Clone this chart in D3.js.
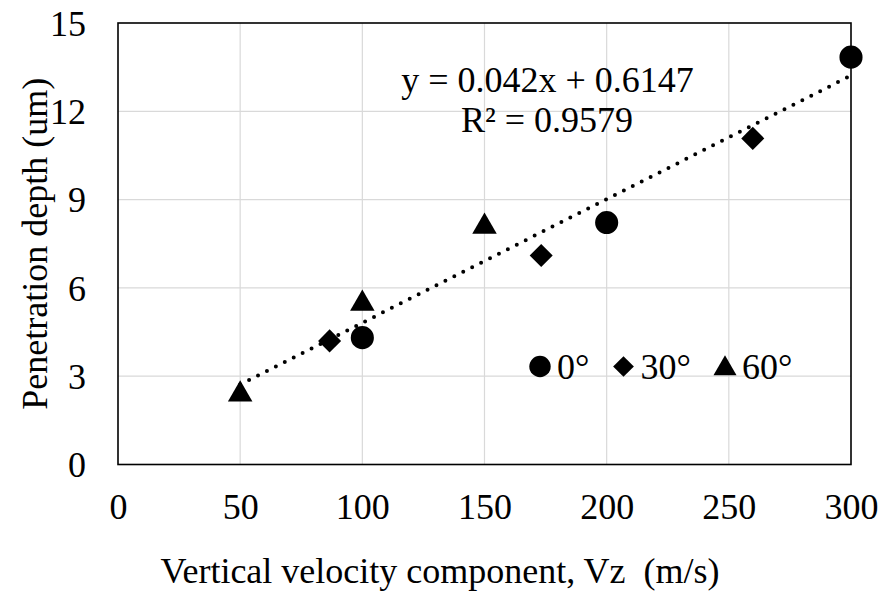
<!DOCTYPE html>
<html><head><meta charset="utf-8">
<script src="https://cdn.jsdelivr.net/npm/d3@7"></script>
<style>body{margin:0;background:#fff}svg{display:block}
svg text{font-family:"Liberation Serif","Tinos","Times New Roman","DejaVu Serif",serif !important;}</style>
</head><body>
<script>
const xTicks = [0, 50, 100, 150, 200, 250, 300];
const yTicks = [0, 3, 6, 9, 12, 15];
const seriesNames = ["0°", "30°", "60°"];
const series0x = [100, 200, 300];
const series0y = [4.31, 8.22, 13.84];
const series30x = [86.6, 173.2, 259.8];
const series30y = [4.2, 7.1, 11.08];
const series60x = [50, 100, 150];
const series60y = [2.45, 5.53, 8.15];
const trendSlope = 0.042, trendIntercept = 0.6147;
const trendX = [50, 300];
const eqText = "y = 0.042x + 0.6147";
const r2Text = "R² = 0.9579";
const xTitle = "Vertical velocity component, Vz  (m/s)";
const yTitle = "Penetration depth (um)";

const W = 882, H = 600, FS = 36;
const svg = d3.select("body").append("svg").attr("width", W).attr("height", H);
const L = 118, R = 851, T = 23, B = 464.5;
const x = d3.scaleLinear().domain([0, 300]).range([L, R]);
const y = d3.scaleLinear().domain([0, 15]).range([B, T]);

// grid
svg.append("g").selectAll("line").data(xTicks.slice(1, -1)).join("line")
  .attr("x1", d => x(d)).attr("x2", d => x(d)).attr("y1", T).attr("y2", B)
  .attr("stroke", "#d9d9d9").attr("stroke-width", 1.2);
svg.append("g").selectAll("line").data(yTicks.slice(1, -1)).join("line")
  .attr("y1", d => y(d)).attr("y2", d => y(d)).attr("x1", L).attr("x2", R)
  .attr("stroke", "#d9d9d9").attr("stroke-width", 1.2);
svg.append("rect").attr("x", L).attr("y", T).attr("width", R - L).attr("height", B - T)
  .attr("fill", "none").attr("stroke", "#000").attr("stroke-width", 1.6);

// axes (labels only)
const xAxis = svg.append("g").attr("transform", `translate(0,${B})`)
  .call(d3.axisBottom(x).tickValues(xTicks).tickSize(0).tickPadding(30).tickFormat(d3.format("d")));
const yAxis = svg.append("g").attr("transform", `translate(${L},0)`)
  .call(d3.axisLeft(y).tickValues(yTicks).tickSize(0).tickPadding(32).tickFormat(d3.format("d")));
[xAxis, yAxis].forEach(a => {
  a.select(".domain").remove();
  a.selectAll("text").attr("font-size", FS).attr("fill", "#000");
});
xAxis.selectAll("text").attr("dy", "0.68em");
yAxis.selectAll("text").attr("dy", "0.34em");

// titles
svg.append("text").attr("x", 440).attr("y", 583).attr("text-anchor", "middle")
  .attr("font-size", FS).attr("xml:space", "preserve")
  .style("white-space", "pre").text(xTitle);
svg.append("text").attr("transform", `translate(47,${(T + B) / 2}) rotate(-90)`)
  .attr("text-anchor", "middle").attr("font-size", FS).text(yTitle);

// trendline
svg.append("line")
  .attr("x1", x(trendX[0])).attr("y1", y(trendSlope * trendX[0] + trendIntercept))
  .attr("x2", x(trendX[1])).attr("y2", y(trendSlope * trendX[1] + trendIntercept))
  .attr("stroke", "#000").attr("stroke-width", 4).attr("stroke-linecap", "round")
  .attr("stroke-dasharray", "0,10");

// markers
const sym = [d3.symbolCircle, d3.symbolSquare, d3.symbolTriangle];
const rot = [0, 45, 0];
const sizes = [420, 265, 260];
const data = [
  series0x.map((v, i) => [v, series0y[i]]),
  series30x.map((v, i) => [v, series30y[i]]),
  series60x.map((v, i) => [v, series60y[i]])
];
data.forEach((pts, s) => {
  svg.append("g").selectAll("path").data(pts).join("path")
    .attr("transform", d => `translate(${x(d[0])},${y(d[1]) + (s === 2 ? 2 : 0)}) rotate(${rot[s]})`)
    .attr("d", d3.symbol().type(sym[s]).size(sizes[s]))
    .attr("fill", "#000");
});

// equation
svg.append("text").attr("x", 547.5).attr("y", 92).attr("text-anchor", "middle")
  .attr("font-size", FS).text(eqText);
svg.append("text").attr("x", 547).attr("y", 131.5).attr("text-anchor", "middle")
  .attr("font-size", FS).text(r2Text);

// legend
const legX = [540, 623.5, 725];
const legSizes = [360, 215, 230];
const legY = 366.5;
seriesNames.forEach((n, i) => {
  svg.append("path").attr("transform", `translate(${legX[i]},${legY + (i === 2 ? 2 : 0)}) rotate(${rot[i]})`)
    .attr("d", d3.symbol().type(sym[i]).size(legSizes[i])).attr("fill", "#000");
  svg.append("text").attr("x", legX[i] + 17).attr("y", 379)
    .attr("font-size", FS).text(n);
});
</script>
</body></html>
